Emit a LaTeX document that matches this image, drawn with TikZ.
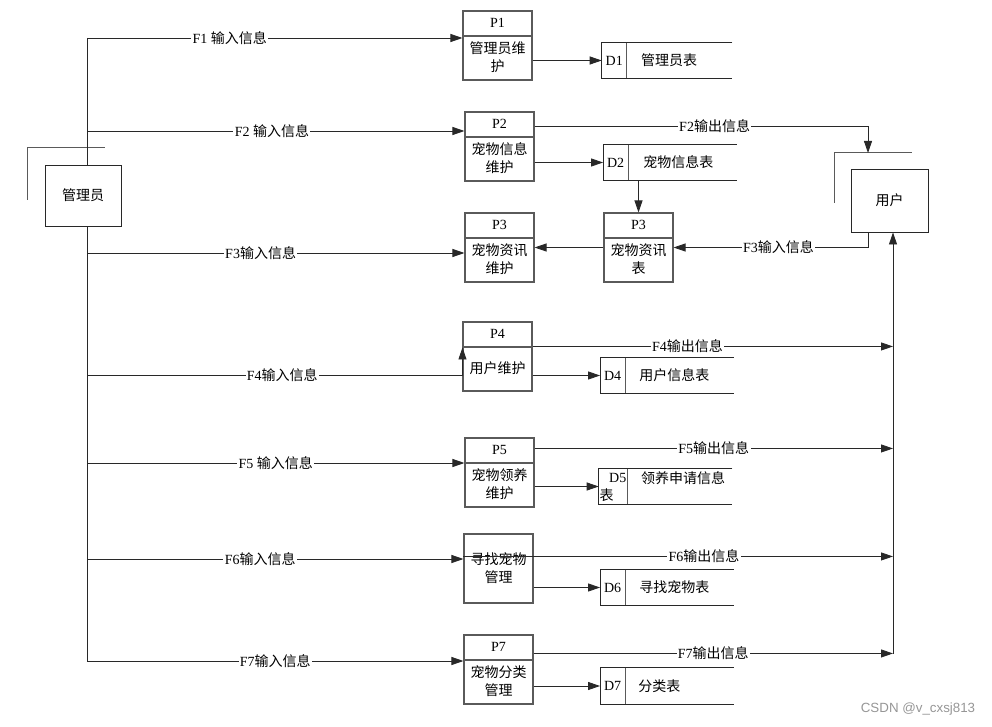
\documentclass[tikz,border=0pt]{standalone}
\usepackage{fontspec}
\setmainfont{Liberation Serif}
\newfontfamily\cjk{Noto Sans CJK SC}
\newfontfamily\wmfont{Liberation Sans}
\usetikzlibrary{
    arrows.meta,
    calc,
    positioning
}
\definecolor{ink}{RGB}{40,40,40}
\definecolor{frame}{RGB}{90,90,90}
\definecolor{wmark}{RGB}{150,150,150}
\newcommand{\zhtext}[1]{{\cjk #1}}
\tikzset{
    line/.style={
        draw=ink,
        line width=0.65pt
    },
    flow/.style={
        line,
        -{Triangle[length=9pt,width=6pt]}
    },
    entity/.style={
        rectangle,
        draw=ink,
        line width=0.7pt,
        inner sep=0pt,
        font=\fontsize{10.5pt}{13.5pt}\selectfont\cjk
    },
    process/.style={
        rectangle,
        draw=frame,
        line width=0.8pt,
        minimum width=51.75pt,
        minimum height=51.75pt,
        inner sep=0pt
    },
    header/.style={
        process,
        path picture={
            \draw[frame, line width=0.8pt]
                ([yshift=-18.75pt]path picture bounding box.north west) --
                ([yshift=-18.75pt]path picture bounding box.north east);
        }
    },
    store/.style={
        rectangle,
        minimum width=100pt,
        minimum height=26.25pt,
        inner sep=0pt
    },
    pid/.style={
        font=\fontsize{10.5pt}{12pt}\selectfont,
        inner sep=0pt
    },
    ptext/.style={
        font=\fontsize{10.5pt}{13.5pt}\selectfont\cjk,
        align=center,
        inner sep=0pt
    },
    sname/.style={
        ptext,
        anchor=west
    },
    lbl/.style={
        font=\fontsize{10.5pt}{12pt}\selectfont,
        fill=white,
        inner sep=1pt
    }
}

\begin{document}
\begin{tikzpicture}[x=0.75pt, y=-0.75pt]
\useasboundingbox (0,0) rectangle (992,727);

% External entities
\node[entity, minimum width=57pt, minimum height=45.75pt] (admin) at (83,195.5) {管理员};
\node[entity, minimum width=57.75pt, minimum height=47.25pt] (user) at (889.5,200.5) {用户};
\draw[line, draw=frame] ($(admin.north west)+(-17,35)$) -- ($(admin.north west)+(-17,-17)$) -- ($(admin.north east)+(-16,-17)$);
\draw[line, draw=frame] ($(user.north west)+(-16,34)$) -- ($(user.north west)+(-16,-16)$) -- ($(user.north east)+(-16,-16)$);

% Processes
\node[header] (p1) at (497.5,45.5) {};
\node[pid] (p1h) at ($(p1.north)+(0,12.5)$) {P1};
\node[ptext] (p1b) at ($(p1.north)+(0,47)$) {管理员维\\护};

\node[header] (p2) at (499.5,146.5) {};
\node[pid] (p2h) at ($(p2.north)+(0,12.5)$) {P2};
\node[ptext] (p2b) at ($(p2.north)+(0,47)$) {宠物信息\\维护};

\node[header] (p3) at (499.5,247.5) {};
\node[pid] (p3h) at ($(p3.north)+(0,12.5)$) {P3};
\node[ptext] (p3b) at ($(p3.north)+(0,47)$) {宠物资讯\\维护};

\node[header] (p3s) at (638.5,247.5) {};
\node[pid] (p3sh) at ($(p3s.north)+(0,12.5)$) {P3};
\node[ptext] (p3sb) at ($(p3s.north)+(0,47)$) {宠物资讯\\表};

\node[header] (p4) at (497.5,356.5) {};
\node[pid] (p4h) at ($(p4.north)+(0,12.5)$) {P4};
\node[ptext] (p4b) at ($(p4.north)+(0,47)$) {用户维护};

\node[header] (p5) at (499.5,472.5) {};
\node[pid] (p5h) at ($(p5.north)+(0,12.5)$) {P5};
\node[ptext] (p5b) at ($(p5.north)+(0,47)$) {宠物领养\\维护};

\node[process] (p6) at (498.5,568.5) {};
\node[ptext] (p6b) at (p6.center) {寻找宠物\\管理};

\node[header] (p7) at (498.5,669.5) {};
\node[pid] (p7h) at ($(p7.north)+(0,12.5)$) {P7};
\node[ptext] (p7b) at ($(p7.north)+(0,47)$) {宠物分类\\管理};

% Data stores
\node[store, minimum width=97.5pt] (d1) at (667,60.5) {};
\node[store] (d2) at (670,162.5) {};
\node[store] (d4) at (667,375.5) {};
\node[store, minimum width=99.75pt] (d5) at (665.5,486.5) {};
\node[store] (d6) at (667,587.5) {};
\node[store, minimum height=27pt] (d7) at (667,686) {};
\foreach \d/\w in {d1/25, d2/25, d4/25, d5/29, d6/25, d7/25} {
    \draw[line] (\d.north east) -- (\d.north west) -- (\d.south west) -- (\d.south east);
    \draw[line, draw=frame] ($(\d.north west)+(\w,0)$) -- ($(\d.south west)+(\w,0)$);
}
\node[pid] (d1i) at ($(d1.west)+(12.5,0)$) {D1};
\node[sname] (d1n) at ($(d1.west)+(39,0)$) {管理员表};
\node[pid] (d2i) at ($(d2.west)+(12.5,0)$) {D2};
\node[sname] (d2n) at ($(d2.west)+(40,0)$) {宠物信息表};
\node[pid] (d4i) at ($(d4.west)+(12.5,0)$) {D4};
\node[sname] (d4n) at ($(d4.west)+(39,0)$) {用户信息表};
\node[pid] (d5i) at ($(d5.north west)+(19,9)$) {D5};
\node[ptext] (d5t) at ($(d5.south west)+(8,-9)$) {表};
\node[sname] (d5n) at ($(d5.north west)+(42,9)$) {领养申请信息};
\node[pid] (d6i) at ($(d6.west)+(12.5,0)$) {D6};
\node[sname] (d6n) at ($(d6.west)+(39,0)$) {寻找宠物表};
\node[pid] (d7i) at ($(d7.west)+(12.5,0)$) {D7};
\node[sname] (d7n) at ($(d7.west)+(38,0)$) {分类表};

% Trunk from the admin
\coordinate (a1) at (87,38);
\coordinate (a2) at (87,131);
\coordinate (a3) at (87,253);
\coordinate (a4) at (87,375);
\coordinate (a5) at (87,463);
\coordinate (a6) at (87,559);
\coordinate (a7) at (87,661);
\draw[line] (a1) -- (admin.north -| a1);
\draw[line] (admin.south -| a7) -- (a7);

% Input flows
\draw[flow] (a1) -- node[lbl, pos=0.38] {F1 \zhtext{输入信息}} (a1 -| p1.west);
\draw[flow] (a2) -- node[lbl, pos=0.49] {F2 \zhtext{输入信息}} (a2 -| p2.west);
\draw[flow] (a3) -- node[lbl, pos=0.46] {F3\zhtext{输入信息}} (a3 -| p3.west);
\draw[flow] (a4) -- node[lbl, pos=0.52] {F4\zhtext{输入信息}} (a4 -| p4.west) -- ($(p4.north west)+(0,26)$);
\draw[flow] (a5) -- node[lbl, pos=0.5] {F5 \zhtext{输入信息}} (a5 -| p5.west);
\draw[flow] (a6) -- node[lbl, pos=0.46] {F6\zhtext{输入信息}} (a6 -| p6.west);
\draw[flow] (a7) -- node[lbl, pos=0.5] {F7\zhtext{输入信息}} (a7 -| p7.west);

% Process to store
\draw[flow] (d1.west -| p1.east) -- (d1.west);
\draw[flow] (d2.west -| p2.east) -- (d2.west);
\draw[flow] (d4.west -| p4.east) -- (d4.west);
\draw[flow] (d5.west -| p5.east) -- (d5.west);
\draw[flow] (d6.west -| p6.east) -- (d6.west);
\draw[flow] (d7.west -| p7.east) -- (d7.west);
\draw[flow] (d2.south -| p3s.north) -- (p3s.north);
\draw[flow] (p3s.west) -- (p3s.west -| p3.east);

% Flows to and from the user
\coordinate (u2) at (868,153);
\coordinate (bus) at (893,654);
\coordinate (o2) at ($(p2.north east)+(0,15)$);
\coordinate (o4) at ($(p4.north east)+(0,25)$);
\coordinate (o5) at ($(p5.north east)+(0,11)$);
\coordinate (o6) at ($(p6.north west)+(0,23)$);
\coordinate (o7) at ($(p7.north east)+(0,19)$);
\draw[flow] (o2) -- node[lbl, pos=0.54] {F2\zhtext{输出信息}} (o2 -| u2) -- (u2);
\draw[flow] (user.south -| u2) |- node[lbl, pos=0.73] {F3\zhtext{输入信息}} (p3s.east);
\draw[flow] (bus) -- (bus |- user.south);
\draw[flow] (o4) -- node[lbl, pos=0.43] {F4\zhtext{输出信息}} (o4 -| bus);
\draw[flow] (o5) -- node[lbl, pos=0.5] {F5\zhtext{输出信息}} (o5 -| bus);
\draw[flow] (o6) -- node[lbl, pos=0.56] {F6\zhtext{输出信息}} (o6 -| bus);
\draw[flow] (o7) -- node[lbl, pos=0.5] {F7\zhtext{输出信息}} (o7 -| bus);

\node[font=\wmfont\fontsize{10pt}{12pt}\selectfont, text=wmark] (wm) at (918,709) {CSDN @v\_cxsj813};

\end{tikzpicture}
\end{document}
